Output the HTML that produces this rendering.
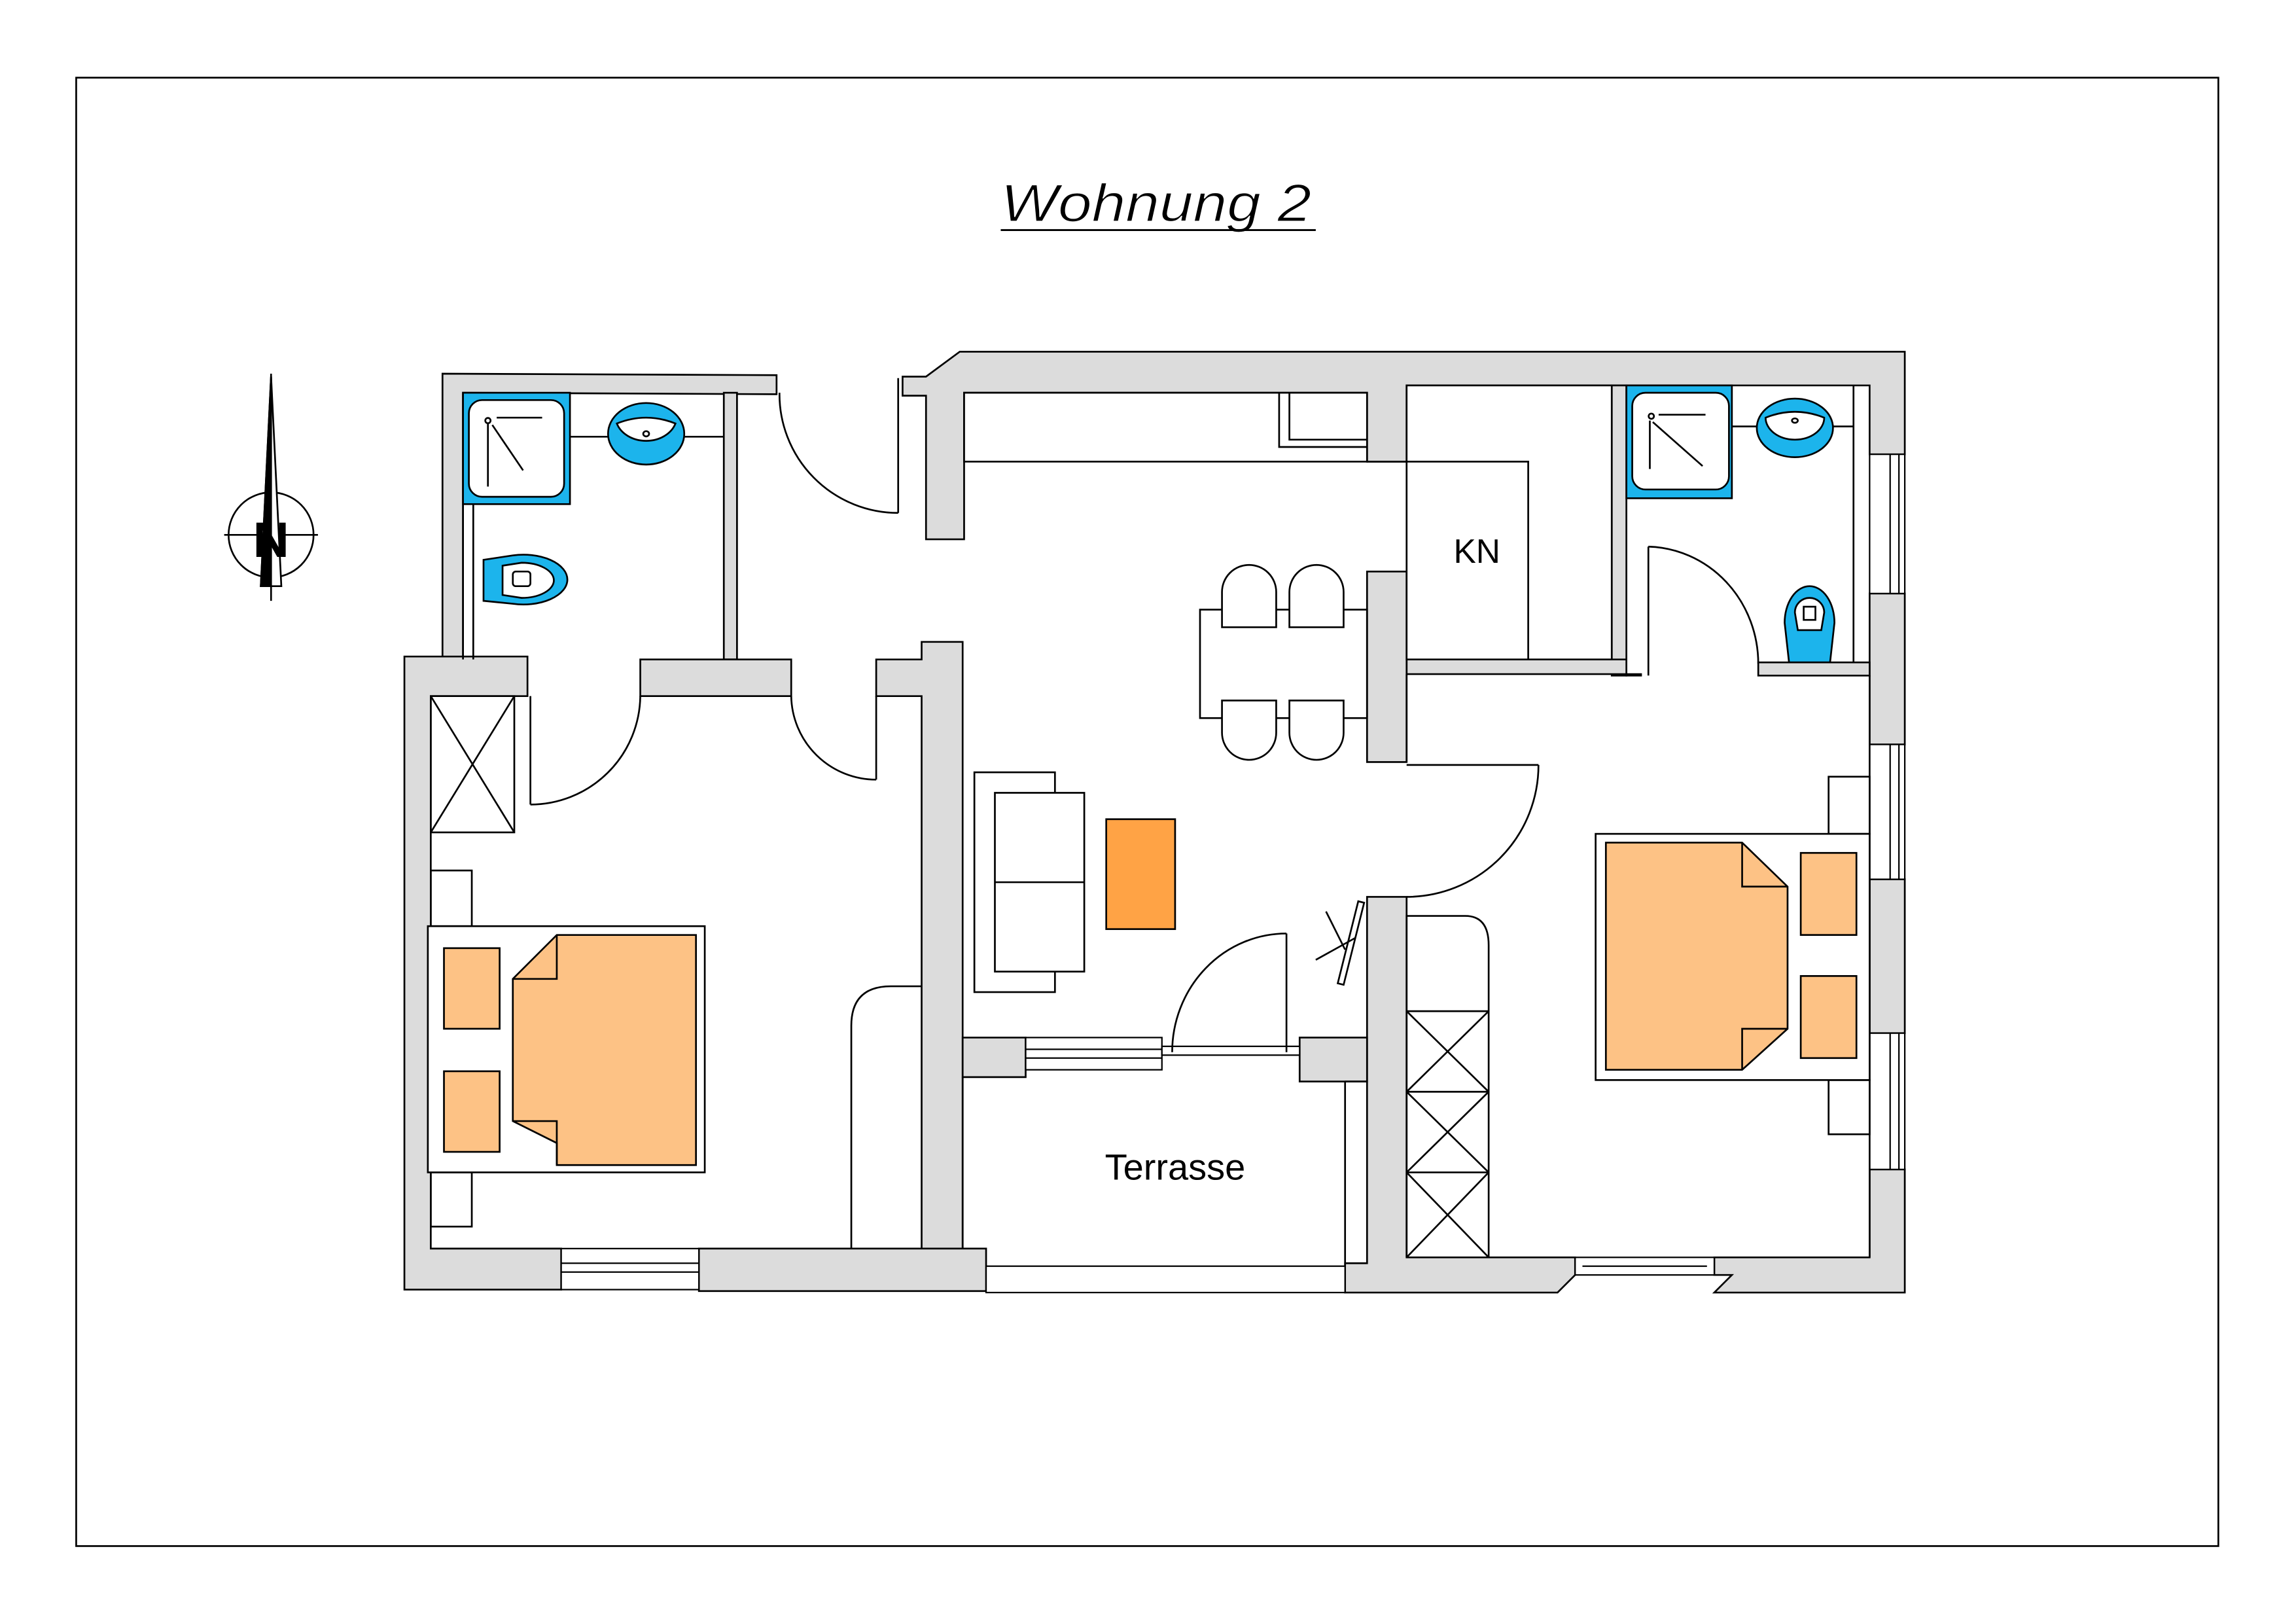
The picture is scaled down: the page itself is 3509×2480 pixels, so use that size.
<!DOCTYPE html>
<html><head><meta charset="utf-8"><style>html,body{margin:0;padding:0;background:#fff}svg{display:block}</style></head>
<body>
<svg width="3509" height="2480" viewBox="0 0 1567 1107.5" preserveAspectRatio="none" xmlns="http://www.w3.org/2000/svg" font-family="'Liberation Sans',sans-serif">
<g stroke="#000" stroke-width="1.3" fill="none" stroke-linejoin="miter">
<rect x="52" y="53" width="1462" height="1002" stroke-width="1.2"/>
</g>
<text x="683" y="151" font-size="36" font-style="italic" fill="#000" stroke="#fff" stroke-width="0.6" textLength="212" lengthAdjust="spacingAndGlyphs">Wohnung  2</text>
<line x1="683" y1="157" x2="898" y2="157" stroke="#000" stroke-width="1.3"/>
<!-- north -->
<g stroke="#000" stroke-width="1.2" fill="none">
<circle cx="185" cy="365" r="29"/>
<line x1="153" y1="365" x2="217" y2="365"/>
<line x1="185" y1="255" x2="185" y2="410"/>
<polygon points="185,257 178,400 192,400" fill="#fff"/>
<polygon points="185,257 185,400 178,400" fill="#000"/>
</g>
<text x="185" y="380" font-size="34" font-weight="bold" text-anchor="middle" fill="#000">N</text>

<!-- walls -->
<g fill="#dcdcdc" stroke="#000" stroke-width="1.2">
<polygon points="302,255 530,256 530,269 316,268 316,450 302,450"/>
<rect x="494" y="268" width="9" height="182"/>
<polygon points="276,448 360,448 360,475 294,475 294,852 383,852 383,880 276,880"/>
<rect x="437" y="450" width="103" height="25"/>
<polygon points="598,450 629,450 629,438 657,438 657,880 629,880 629,475 598,475"/>
<rect x="477" y="852" width="196" height="29"/>
<polygon points="616,257 632,257 655,240 1300,240 1300,310 1276,310 1276,263 960,263 960,315 933,315 933,268 658,268 658,368 632,368 632,270 616,270"/>
<rect x="1276" y="405" width="24" height="103"/>
<rect x="1276" y="600" width="24" height="105"/>
<polygon points="1276,798 1300,798 1300,882 1170,882 1182,870 1170,870 1170,858 1276,858"/>
<rect x="1100" y="263" width="10" height="198"/>
<polygon points="960,450 1110,450 1110,461 1120,461 1120,460 960,460"/>
<rect x="1200" y="452" width="76" height="9"/>
<rect x="933" y="390" width="27" height="130"/>
<polygon points="933,612 960,612 960,858 1075,858 1075,870 1063,882 918,882 918,862 933,862"/>
<polygon points="657,708 700,708 700,735 657,735"/>
<rect x="887" y="708" width="46" height="30"/>
</g>
<!-- windows -->
<g fill="#fff" stroke="#000" stroke-width="1">
<rect x="383" y="852" width="94" height="28"/><line x1="383" y1="862" x2="477" y2="862"/><line x1="383" y1="868" x2="477" y2="868"/>
<rect x="1276" y="310" width="24" height="95"/><line x1="1290" y1="310" x2="1290" y2="405"/><line x1="1296" y1="310" x2="1296" y2="405"/>
<rect x="1276" y="508" width="24" height="92"/><line x1="1290" y1="508" x2="1290" y2="600"/><line x1="1296" y1="508" x2="1296" y2="600"/>
<rect x="1276" y="705" width="24" height="93"/><line x1="1290" y1="705" x2="1290" y2="798"/><line x1="1296" y1="705" x2="1296" y2="798"/>
<rect x="1075" y="858" width="95" height="12"/><line x1="1080" y1="864" x2="1165" y2="864"/>
<rect x="700" y="708" width="93" height="22"/><line x1="700" y1="716" x2="793" y2="716"/><line x1="700" y1="722" x2="793" y2="722"/>
<rect x="793" y="714" width="94" height="6"/>
<rect x="673" y="864" width="245" height="18"/>
</g>
<g fill="none" stroke="#000" stroke-width="1.2">
<line x1="657" y1="735" x2="657" y2="852"/>
<line x1="918" y1="738" x2="918" y2="864"/>
<line x1="933" y1="738" x2="918" y2="738"/>
<path d="M581,852 L581,700 Q581,673 608,673 L629,673"/>
<rect x="658" y="268" width="275" height="47" fill="#fff"/>
<polyline points="873,268 873,305 933,305"/>
<polyline points="880,268 880,300 933,300"/>
<rect x="960" y="263" width="140" height="187" fill="#fff"/>
<polyline points="933,315 1043,315 1043,450"/>
<line x1="316" y1="450" x2="316" y2="268"/>
<line x1="323" y1="344" x2="323" y2="450"/>
<line x1="960" y1="520" x2="960" y2="460"/>
<line x1="1276" y1="461" x2="1276" y2="858"/>
<line x1="613" y1="258" x2="613" y2="350"/><path d="M532,268 A81,81 0 0 0 613,350"/>
<line x1="362" y1="475" x2="362" y2="549"/><path d="M437,475 A75,75 0 0 1 362,549"/>
<line x1="598" y1="475" x2="598" y2="532"/><path d="M540,475 A58,58 0 0 0 598,532"/>
<line x1="960" y1="522" x2="1050" y2="522"/><path d="M1050,522 A90,90 0 0 1 960,612"/>
<line x1="1125" y1="373" x2="1125" y2="461"/><path d="M1125,373 A77,80 0 0 1 1200,453"/>
<line x1="878" y1="637" x2="878" y2="718"/><path d="M878,637 A78,81 0 0 0 800,718"/>
<rect x="665" y="527" width="55" height="150" fill="#fff"/>
<rect x="679" y="541" width="61" height="122" fill="#fff"/>
<line x1="679" y1="602" x2="740" y2="602"/>
<rect x="819" y="416" width="114" height="74"/>
<path d="M834,428 L834,404 A18.5,18.5 0 0 1 871,404 L871,428 Z" fill="#fff"/>
<path d="M880,428 L880,404 A18.5,18.5 0 0 1 917,404 L917,428 Z" fill="#fff"/>
<path d="M834,478 L834,500 A18.5,18.5 0 0 0 871,500 L871,478 Z" fill="#fff"/>
<path d="M880,478 L880,500 A18.5,18.5 0 0 0 917,500 L917,478 Z" fill="#fff"/>
<rect x="294" y="475" width="57" height="93"/><line x1="294" y1="475" x2="351" y2="568"/><line x1="351" y1="475" x2="294" y2="568"/>
<rect x="294" y="594" width="28" height="38"/>
<rect x="294" y="800" width="28" height="37"/>
<rect x="292" y="632" width="189" height="168" fill="#fff"/>
<path d="M960,858 L960,625 L1000,625 Q1016,625 1016,645 L1016,858"/>
<line x1="960" y1="690" x2="1016" y2="690"/><line x1="960" y1="745" x2="1016" y2="745"/><line x1="960" y1="800" x2="1016" y2="800"/>
<line x1="960" y1="690" x2="1016" y2="745"/><line x1="1016" y1="690" x2="960" y2="745"/>
<line x1="960" y1="745" x2="1016" y2="800"/><line x1="1016" y1="745" x2="960" y2="800"/>
<line x1="960" y1="800" x2="1016" y2="858"/><line x1="1016" y1="800" x2="960" y2="858"/>
<rect x="1248" y="530" width="28" height="39"/>
<rect x="1248" y="737" width="28" height="37"/>
<rect x="1089" y="569" width="187" height="168" fill="#fff"/>
<line x1="898" y1="655" x2="925" y2="640"/><line x1="905" y1="622" x2="918" y2="648"/>
<polygon points="927,615 931,616 917,672 913,671"/>
</g>
<g stroke="#000" stroke-width="1.2">
<rect x="755" y="559" width="47" height="75" fill="#ffa345"/>
<rect x="303" y="647" width="38" height="55" fill="#fdc285"/>
<rect x="303" y="731" width="38" height="55" fill="#fdc285"/>
<polygon points="380,638 475,638 475,795 380,795 380,780 350,765 350,668 380,638" fill="#fdc285"/>
<polyline points="350,668 380,668 380,638" fill="none"/>
<polyline points="350,765 380,765 380,795" fill="none"/>
<rect x="1229" y="582" width="38" height="56" fill="#fdc285"/>
<rect x="1229" y="666" width="38" height="56" fill="#fdc285"/>
<polygon points="1096,575 1189,575 1220,605 1220,702 1189,730 1096,730" fill="#fdc285"/>
<polyline points="1189,575 1189,605 1220,605" fill="none"/>
<polyline points="1189,730 1189,702 1220,702" fill="none"/>
</g>
<g stroke="#000" stroke-width="1.2">
<rect x="316" y="268" width="73" height="76" fill="#1cb4ec"/>
<rect x="320" y="273" width="65" height="66" rx="9" fill="#fff"/>
<line x1="389" y1="298" x2="416" y2="298"/><line x1="467" y1="298" x2="494" y2="298"/>
<ellipse cx="441" cy="296" rx="26" ry="21" fill="#1cb4ec"/>
<path d="M421,289 Q441,281 461,289 A21,17 0 0 1 421,289 Z" fill="#fff"/>
<ellipse cx="441" cy="296" rx="2" ry="1.8" fill="#fff"/>
<path d="M330,382 L350,379 A30,17 0 1 1 350,412 L330,410 Z" fill="#1cb4ec"/>
<path d="M343,386 L356,384 A22,12 0 1 1 356,408 L343,406 Z" fill="#fff"/>
<rect x="350" y="390" width="12" height="10" rx="2" fill="#fff"/>
<line x1="333" y1="289" x2="333" y2="332" /><line x1="336" y1="290" x2="357" y2="321"/><line x1="339" y1="285" x2="370" y2="285"/>
<circle cx="333" cy="287" r="1.8" fill="#fff"/>
<rect x="1110" y="263" width="72" height="77" fill="#1cb4ec"/>
<rect x="1114" y="268" width="66" height="66" rx="9" fill="#fff"/>
<line x1="1182" y1="291" x2="1200" y2="291"/><line x1="1251" y1="291" x2="1265" y2="291"/>
<ellipse cx="1225" cy="292" rx="26" ry="20" fill="#1cb4ec"/>
<path d="M1205,285 Q1225,277 1245,285 A20,15 0 0 1 1205,285 Z" fill="#fff"/>
<ellipse cx="1225" cy="287" rx="2" ry="1.5" fill="#fff"/>
<line x1="1126" y1="287" x2="1126" y2="320"/><line x1="1128" y1="288" x2="1162" y2="318"/><line x1="1132" y1="283" x2="1164" y2="283"/>
<circle cx="1127" cy="284" r="1.8" fill="#fff"/>
<line x1="1265" y1="263" x2="1265" y2="452"/>
<path d="M1221,452 L1218,425 A17,25 0 0 1 1252,425 L1249,452 Z" fill="#1cb4ec"/>
<path d="M1227,430 L1225,418 A10,10 0 0 1 1245,418 L1243,430 Z" fill="#fff"/>
<rect x="1231" y="414" width="8" height="9" fill="#fff"/>
</g>
<text x="1008" y="384" font-size="23" text-anchor="middle" fill="#000">KN</text>
<text x="802" y="805" font-size="25" text-anchor="middle" fill="#000">Terrasse</text>
</svg>
</body></html>
